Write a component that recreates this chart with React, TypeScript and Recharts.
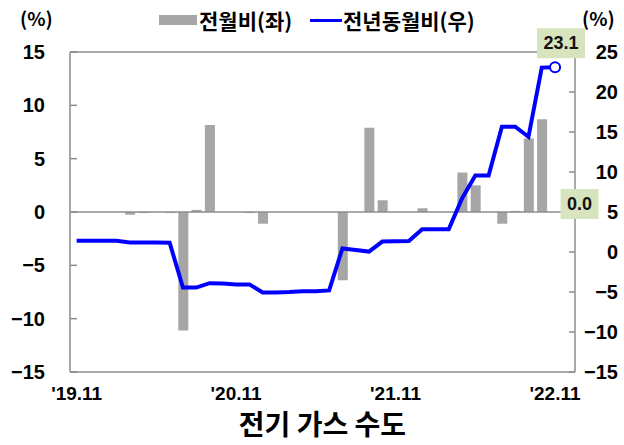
import React from 'react';
import { ComposedChart, Bar, Line, XAxis, YAxis, ReferenceLine, ReferenceDot, LabelList } from 'recharts';

const categories = [
  "'19.11", "'19.12",
  "'20.01", "'20.02", "'20.03", "'20.04", "'20.05", "'20.06", "'20.07", "'20.08", "'20.09", "'20.10", "'20.11", "'20.12",
  "'21.01", "'21.02", "'21.03", "'21.04", "'21.05", "'21.06", "'21.07", "'21.08", "'21.09", "'21.10", "'21.11", "'21.12",
  "'22.01", "'22.02", "'22.03", "'22.04", "'22.05", "'22.06", "'22.07", "'22.08", "'22.09", "'22.10", "'22.11",
];

// 전월비 (left axis, %)
const momValues = [
  0, 0, 0, 0, -0.25, -0.1, 0, -0.1, -11.1, 0.2, 8.15, 0, 0, -0.1,
  -1.1, 0, 0, 0, 0, 0, -6.4, 0, 7.9, 1.1, 0, 0,
  0.35, 0, 0, 3.7, 2.5, 0, -1.1, 0.1, 6.9, 8.7, 0.0,
];

// 전년동월비 (right axis, %)
const yoyValues = [
  1.4, 1.4, 1.4, 1.4, 1.2, 1.2, 1.2, 1.15, -4.45, -4.45, -3.9, -3.95, -4.05, -4.05,
  -5.05, -5.05, -5.0, -4.9, -4.9, -4.8, 0.45, 0.25, 0.05, 1.3, 1.33, 1.38,
  2.85, 2.85, 2.85, 6.7, 9.55, 9.55, 15.67, 15.67, 14.4, 23.05, 23.1,
];

const leftTicks = [-15, -10, -5, 0, 5, 10, 15];
const rightTicks = [-15, -10, -5, 0, 5, 10, 15, 20, 25];
const xTickLabels = ["'19.11", "'20.11", "'21.11", "'22.11"];
const seriesNames = ['전월비(좌)', '전년동월비(우)'];
const chartTitle = '전기 가스 수도';
const unitLabel = '(%)';

const data = categories.map((c, i) => ({ cat: c, mom: momValues[i], yoy: yoyValues[i] }));
const lastIndex = categories.length - 1;

const NUM_FONT = '"Liberation Sans", Arial, sans-serif';
const KR_FONT = '"Noto Sans CJK KR", "Noto Sans", sans-serif';
const BAR_COLOR = '#a6a6a6';
const LINE_COLOR = '#0000ff';
const AXIS_COLOR = '#8c8c8c';
const BOX_COLOR = '#d7e4bd';

const fmtTick = (v: number) => (v < 0 ? `\u2212${Math.abs(v)}` : `${v}`);

const LeftTick = (props: any) => {
  const { x, y, payload } = props;
  return (
    <text x={x} y={y} textAnchor="end" dominantBaseline="central" fontFamily={NUM_FONT} fontWeight="bold" fontSize={20} fill="#000">
      {fmtTick(payload.value)}
    </text>
  );
};

const RightTick = (props: any) => {
  const { x, y, payload } = props;
  return (
    <text x={x} y={y} textAnchor="end" dominantBaseline="central" fontFamily={NUM_FONT} fontWeight="bold" fontSize={20} fill="#000">
      {fmtTick(payload.value)}
    </text>
  );
};

const BottomTick = (props: any) => {
  const { x, y, payload } = props;
  if (!xTickLabels.includes(payload.value)) return <g />;
  return (
    <text x={x} y={y} textAnchor="middle" dominantBaseline="central" fontFamily={NUM_FONT} fontWeight="bold" fontSize={19} fill="#000">
      {payload.value}
    </text>
  );
};

const LineValueLabel = (props: any) => {
  const { x, y, value, index } = props;
  if (index !== lastIndex) return <g />;
  const cx = x + 6;
  const cy = y - 24;
  return (
    <g>
      <rect x={cx - 24} y={cy - 15} width={48} height={30} fill={BOX_COLOR} />
      <text x={cx} y={cy} textAnchor="middle" dominantBaseline="central" fontFamily={NUM_FONT} fontWeight="bold" fontSize={18} fill="#111">
        {Number(value).toFixed(1)}
      </text>
    </g>
  );
};

const BarValueBox = (props: any) => {
  const { cx, cy } = props;
  const bx = cx + 24.5;
  const by = cy - 8;
  return (
    <g>
      <rect x={bx - 19} y={by - 15} width={38} height={30} fill={BOX_COLOR} />
      <text x={bx} y={by} textAnchor="middle" dominantBaseline="central" fontFamily={NUM_FONT} fontWeight="bold" fontSize={18} fill="#111">
        {Number(momValues[lastIndex]).toFixed(1)}
      </text>
    </g>
  );
};

const LastDot = (props: any) => {
  const { cx, cy, index } = props;
  if (index !== lastIndex) return <g key={`d${index}`} />;
  return <circle key={`d${index}`} cx={cx} cy={cy} r={5} fill="#fff" stroke={LINE_COLOR} strokeWidth={2} />;
};

export default function App() {
  return (
    <div style={{ position: 'fixed', left: 0, top: 0, width: 624, height: 445, background: '#fff' }}>
      <ComposedChart
        width={624}
        height={445}
        data={data}
        margin={{ top: 52, right: 0, bottom: 43, left: 0 }}
      >
        <XAxis
          dataKey="cat"
          xAxisId="x"
          interval={0}
          height={30}
          padding={{ left: 0, right: 13.3 }}
          axisLine={{ stroke: AXIS_COLOR, strokeWidth: 1.5 }}
          tickLine={false}
          tickSize={0}
          tickMargin={21}
          tick={<BottomTick />}
        />
        <YAxis
          yAxisId="left"
          orientation="left"
          width={70}
          domain={[-15, 15]}
          ticks={leftTicks}
          interval={0}
          allowDataOverflow
          axisLine={{ stroke: AXIS_COLOR, strokeWidth: 1.5 }}
          tickLine={{ stroke: AXIS_COLOR, strokeWidth: 1.5 }}
          tickSize={-7}
          tickMargin={32}
          tick={<LeftTick />}
        />
        <YAxis
          yAxisId="right"
          orientation="right"
          width={49}
          domain={[-15, 25]}
          ticks={rightTicks}
          interval={0}
          allowDataOverflow
          axisLine={{ stroke: AXIS_COLOR, strokeWidth: 1.5 }}
          tickLine={{ stroke: AXIS_COLOR, strokeWidth: 1.5 }}
          tickSize={-6}
          tickMargin={49}
          tick={<RightTick />}
        />
        <ReferenceLine xAxisId="x" yAxisId="left" y={15} stroke={AXIS_COLOR} strokeWidth={1.5} />
        <ReferenceLine xAxisId="x" yAxisId="left" y={0} stroke={AXIS_COLOR} strokeWidth={1.5} />
        <Bar xAxisId="x" yAxisId="left" dataKey="mom" name={seriesNames[0]} fill={BAR_COLOR} barSize={10} isAnimationActive={false} />
        <Line
          xAxisId="x"
          yAxisId="right"
          dataKey="yoy"
          name={seriesNames[1]}
          type="linear"
          stroke={LINE_COLOR}
          strokeWidth={4}
          dot={<LastDot />}
          activeDot={false}
          isAnimationActive={false}
        >
          <LabelList dataKey="yoy" content={<LineValueLabel />} />
        </Line>
        <ReferenceDot
          xAxisId="x"
          yAxisId="left"
          x={categories[lastIndex]}
          y={momValues[lastIndex]}
          r={0}
          shape={(p: any) => <BarValueBox {...p} />}
        />
      </ComposedChart>

      {/* unit labels */}
      <div style={{ position: 'absolute', left: 20, top: 5, fontFamily: KR_FONT, fontWeight: 'bold', fontSize: 19, lineHeight: '26px' }}>
        {unitLabel}
      </div>
      <div style={{ position: 'absolute', left: 582, top: 5, fontFamily: KR_FONT, fontWeight: 'bold', fontSize: 19, lineHeight: '26px' }}>
        {unitLabel}
      </div>

      {/* legend */}
      <div style={{ position: 'absolute', left: 0, top: 6, width: 624, height: 28, fontFamily: KR_FONT, fontWeight: 'bold', fontSize: 21, lineHeight: '28px', color: '#000', whiteSpace: 'nowrap' }}>
        <span style={{ position: 'absolute', left: 159, top: 9, width: 38, height: 10, background: BAR_COLOR }} />
        <span style={{ position: 'absolute', left: 199, top: 0 }}>{seriesNames[0]}</span>
        <span style={{ position: 'absolute', left: 310, top: 13, width: 32, height: 3, background: LINE_COLOR }} />
        <span style={{ position: 'absolute', left: 343, top: 0 }}>{seriesNames[1]}</span>
      </div>

      {/* title */}
      <div style={{ position: 'absolute', left: 70, width: 505, top: 408, textAlign: 'center', fontFamily: KR_FONT, fontWeight: 'bold', fontSize: 28, lineHeight: '30px', color: '#000' }}>
        {chartTitle}
      </div>
    </div>
  );
}
